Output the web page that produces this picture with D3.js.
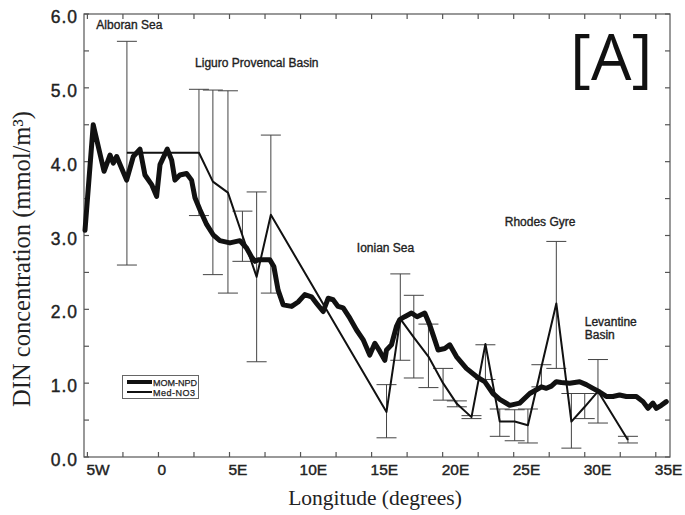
<!DOCTYPE html>
<html><head><meta charset="utf-8">
<script src="https://cdn.jsdelivr.net/npm/d3@7"></script>
<style>body{margin:0;background:#fff}</style>
</head><body>
<script>
// ---- data ----
const xTicks = [-5, 0, 5, 10, 15, 20, 25, 30, 35];
const xTickLabels = ["5W", "0", "5E", "10E", "15E", "20E", "25E", "30E", "35E"];
const yTicks = [0, 1, 2, 3, 4, 5, 6];
const yTickLabels = ["0.0", "1.0", "2.0", "3.0", "4.0", "5.0", "6.0"];

// MOM-NPD (model) longitude / DIN
const momLon = [-5.17,-4.59,-3.83,-3.41,-3.18,-2.94,-2.24,-1.77,-1.30,-0.95,-0.48,-0.13,0.11,0.62,0.93,1.16,1.51,1.98,2.33,2.57,2.92,3.39,3.85,4.32,5.03,5.73,6.20,6.55,6.79,7.02,7.84,8.12,8.42,8.78,9.37,9.83,10.30,10.77,11.13,11.59,11.94,12.29,12.64,13.00,13.47,13.94,14.40,14.87,15.23,15.58,15.93,16.05,16.40,16.75,16.98,17.33,17.81,18.20,18.74,19.09,19.44,19.68,20.15,20.50,20.97,21.67,22.38,22.96,23.54,24.02,24.72,25.42,26.13,26.60,26.95,27.30,27.65,28.00,28.35,28.94,29.64,30.11,30.58,31.05,31.52,31.98,32.45,32.93,33.63,34.10,34.45,34.80,35.04,35.39,35.74];
const momDin = [3.07,4.50,3.87,4.09,3.98,4.07,3.75,4.07,4.17,3.82,3.69,3.53,3.96,4.17,4.02,3.75,3.82,3.84,3.75,3.51,3.35,3.15,3.01,2.93,2.90,2.93,2.83,2.71,2.65,2.67,2.67,2.58,2.26,2.06,2.04,2.10,2.20,2.17,2.08,1.97,2.15,2.13,2.04,2.02,1.88,1.72,1.59,1.38,1.54,1.43,1.31,1.45,1.52,1.77,1.86,1.90,1.95,1.90,1.95,1.79,1.59,1.45,1.47,1.52,1.36,1.20,1.09,1.02,0.86,0.78,0.70,0.73,0.86,0.91,0.95,0.93,0.96,1.02,1.01,1.00,1.02,0.98,0.93,0.88,0.82,0.82,0.84,0.82,0.82,0.75,0.66,0.73,0.66,0.70,0.75];

// Med-NO3 (climatology) longitude / DIN / error range
const medLon = [-2.22,2.85,3.83,4.89,5.91,6.91,7.91,16.05,17.02,17.97,19.00,20.03,21.00,22.03,23.01,24.02,25.07,26.00,26.95,28.00,29.06,30.00,30.93,33.04];
const medDin = [4.12,4.12,3.73,3.58,3.00,2.44,3.28,0.61,1.87,1.62,1.36,1.00,0.72,0.54,1.53,0.48,0.48,0.43,1.22,2.08,0.48,0.68,0.89,0.23];
const medLow = [2.60,3.27,2.47,2.22,2.65,1.29,2.22,0.26,1.31,1.07,0.94,0.77,0.68,0.52,1.05,0.28,0.22,0.19,0.95,1.20,0.12,0.52,0.46,0.19];
const medHigh = [5.63,4.98,4.97,4.96,3.33,3.59,4.36,0.98,2.48,2.19,1.80,1.20,0.76,0.56,1.52,0.65,0.64,0.65,1.25,2.92,0.86,0.86,1.32,0.28];

const regionNames = ["Alboran Sea", "Liguro Provencal Basin", "Ionian Sea", "Rhodes Gyre", "Levantine", "Basin"];
const regionLon = [-4.37, 2.58, 13.96, 24.37, 30.0, 30.0];
const regionDin = [5.80, 5.28, 2.78, 3.13, 1.77, 1.60];
const seriesNames = ["MOM-NPD", "Med-NO3"];

// ---- chart ----
const W = 685, H = 515;
const svg = d3.select("body").append("svg").attr("width", W).attr("height", H)
  .style("font-family", "'Liberation Sans', Arial, sans-serif");

const x = d3.scaleLinear().domain([-5.24, 36.0]).range([84, 670]);
const y = d3.scaleLinear().domain([0, 6]).range([457, 14]);

const axisCol = "#555";
// frame
svg.append("rect").attr("x", 84).attr("y", 14).attr("width", 586).attr("height", 443)
  .attr("fill", "none").attr("stroke", axisCol).attr("stroke-width", 1.2);

// ticks (inward on all sides)
const xMinor = d3.range(-5, 35.01, 2.5);
const yMinor = d3.range(0, 6.01, 0.5);
const tk = svg.append("g").attr("stroke", axisCol).attr("stroke-width", 1.2);
xMinor.forEach(v => {
  tk.append("line").attr("x1", x(v)).attr("x2", x(v)).attr("y1", 457).attr("y2", 452);
  tk.append("line").attr("x1", x(v)).attr("x2", x(v)).attr("y1", 14).attr("y2", 19);
});
yMinor.forEach(v => {
  tk.append("line").attr("x1", 84).attr("x2", 89).attr("y1", y(v)).attr("y2", y(v));
  tk.append("line").attr("x1", 670).attr("x2", 665).attr("y1", y(v)).attr("y2", y(v));
});

// tick labels
svg.append("g").selectAll("text").data(xTicks).join("text")
  .attr("x", d => x(d) - 1).attr("y", 475)
  .attr("font-size", 15.5).attr("fill", "#222").attr("stroke", "#222").attr("stroke-width", 0.4)
  .text((d, i) => xTickLabels[i]);
svg.append("g").selectAll("text").data(yTicks).join("text")
  .attr("x", 78).attr("y", d => y(d) + 9).attr("text-anchor", "end")
  .attr("font-size", 17.5).attr("letter-spacing", 1).attr("fill", "#222")
  .attr("stroke", "#222").attr("stroke-width", 0.4)
  .text((d, i) => yTickLabels[i]);

// axis titles
svg.append("text").attr("x", 375).attr("y", 505).attr("text-anchor", "middle")
  .attr("font-family", "'Liberation Serif', 'Times New Roman', serif").attr("font-size", 21.5).attr("fill", "#222")
  .text("Longitude (degrees)");
svg.append("text").attr("transform", "translate(30,259) rotate(-90)").attr("text-anchor", "middle")
  .attr("font-family", "'Liberation Serif', 'Times New Roman', serif").attr("font-size", 24.5).attr("fill", "#222")
  .text("DIN concentration (mmol/m³)");

// error bars
const eb = svg.append("g").attr("stroke", "#444").attr("stroke-width", 1).attr("fill", "none");
medLon.forEach((lon, i) => {
  const cx = x(lon);
  eb.append("line").attr("x1", cx).attr("x2", cx).attr("y1", y(medLow[i])).attr("y2", y(medHigh[i]));
  eb.append("line").attr("x1", cx - 10).attr("x2", cx + 10).attr("y1", y(medLow[i])).attr("y2", y(medLow[i]));
  eb.append("line").attr("x1", cx - 10).attr("x2", cx + 10).attr("y1", y(medHigh[i])).attr("y2", y(medHigh[i]));
});

const line = d3.line().x(d => x(d[0])).y(d => y(d[1]));
// Med-NO3 thin line
svg.append("path").datum(medLon.map((v, i) => [v, medDin[i]])).attr("d", line)
  .attr("fill", "none").attr("stroke", "#111").attr("stroke-width", 2).attr("stroke-linejoin", "round");
// MOM-NPD thick line
svg.append("path").datum(momLon.map((v, i) => [v, momDin[i]])).attr("d", line)
  .attr("fill", "none").attr("stroke", "#111").attr("stroke-width", 5).attr("stroke-linejoin", "round").attr("stroke-linecap", "round");

// region labels
svg.append("g").selectAll("text").data(regionNames).join("text")
  .attr("x", (d, i) => x(regionLon[i])).attr("y", (d, i) => y(regionDin[i]))
  .attr("font-size", 12).attr("fill", "#222").attr("stroke", "#222").attr("stroke-width", 0.35)
  .text(d => d);

// legend
const lg = svg.append("g");
lg.append("rect").attr("x", 122.5).attr("y", 375.5).attr("width", 76).attr("height", 23)
  .attr("fill", "#fff").attr("stroke", "#666").attr("stroke-width", 1);
[4, 2].forEach((sw, i) => {
  const ly = 382 + i * 10;
  lg.append("line").attr("x1", 127).attr("x2", 152).attr("y1", ly).attr("y2", ly)
    .attr("stroke", "#111").attr("stroke-width", sw);
  lg.append("text").attr("x", 153).attr("y", ly + 3.5).attr("font-size", 9)
    .attr("fill", "#222").attr("stroke", "#222").attr("stroke-width", 0.25).attr("textLength", i === 0 ? 44 : 42)
    .text(seriesNames[i]);
});

// panel tag
svg.append("text").attr("x", 570).attr("y", 80).attr("font-family", "'Open Sans', 'Noto Sans', sans-serif")
  .attr("font-size", 64).attr("fill", "#111").text("[A]");
</script>
</body></html>
